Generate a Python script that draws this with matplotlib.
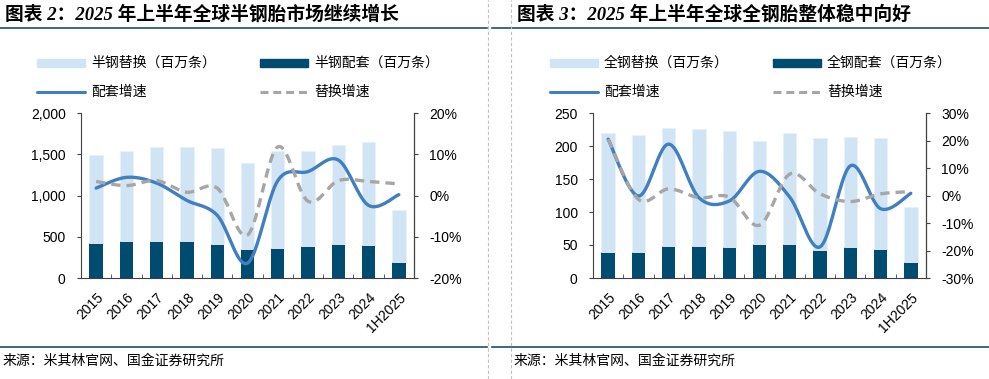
import matplotlib
matplotlib.use('Agg')
import matplotlib.pyplot as plt
import numpy as np
from matplotlib.lines import Line2D
from matplotlib.patches import Rectangle
from matplotlib.ticker import FuncFormatter, MultipleLocator

plt.rcParams['font.family'] = ['Liberation Sans', 'Noto Sans CJK SC', 'DejaVu Sans']
plt.rcParams['axes.unicode_minus'] = False

# 数据
years = ['2015', '2016', '2017', '2018', '2019', '2020', '2021', '2022', '2023', '2024', '1H2025']

# 半钢（百万条）
pc_oe = [423, 443, 451, 443, 418, 350, 362, 382, 414, 406, 197]
pc_repl = [1066, 1094, 1139, 1147, 1159, 1050, 1178, 1155, 1204, 1244, 628]
pc_oe_g = [1.8, 4.4, 3.0, -1.2, -4.8, -16.4, 3.6, 5.8, 8.6, -2.4, 0.2]
pc_repl_g = [3.4, 2.4, 3.6, 0.8, 1.8, -9.6, 11.8, -1.4, 3.6, 3.4, 2.8]

# 全钢（百万条）
tb_oe = [40, 40, 48, 49, 47, 52, 52, 42, 47, 44, 24]
tb_repl = [179, 177, 180, 177, 176, 156, 168, 170, 167, 168, 83]
tb_oe_g = [20.5, -0.2, 18.7, -0.8, -2.0, 8.8, -0.6, -18.7, 10.8, -4.8, 0.8]
tb_repl_g = [20.5, -1.4, 2.4, -0.8, -0.6, -10.8, 7.8, 0.6, -2.2, 0.6, 1.4]

c_light = '#d1e4f4'
c_dark = '#004b70'
c_line = '#3f7fc2'
c_dash = '#a6a6a6'
c_rule = '#1f4e6b'
cjk = ['Noto Sans CJK SC', 'DejaVu Sans']


def smooth(x, y, n=20):
    # Excel 式平滑曲线（Catmull-Rom）
    x = np.asarray(x, float)
    y = np.asarray(y, float)
    px = np.concatenate([[x[0]], x, [x[-1]]])
    py = np.concatenate([[y[0]], y, [y[-1]]])
    xs, ys = [], []
    for i in range(1, len(px) - 2):
        p0, p1, p2, p3 = px[i - 1], px[i], px[i + 1], px[i + 2]
        q0, q1, q2, q3 = py[i - 1], py[i], py[i + 1], py[i + 2]
        b1x, b1y = p1 + (p2 - p0) / 6, q1 + (q2 - q0) / 6
        b2x, b2y = p2 - (p3 - p1) / 6, q2 - (q3 - q1) / 6
        t = np.linspace(0, 1, n)
        xs.append((1 - t) ** 3 * p1 + 3 * (1 - t) ** 2 * t * b1x + 3 * (1 - t) * t ** 2 * b2x + t ** 3 * p2)
        ys.append((1 - t) ** 3 * q1 + 3 * (1 - t) ** 2 * t * b1y + 3 * (1 - t) * t ** 2 * b2y + t ** 3 * q2)
    return np.concatenate(xs), np.concatenate(ys)


def panel(ax, oe, repl, oe_g, repl_g, ymax, ystep, gmin, gmax):
    x = np.arange(len(years))
    ax.bar(x, oe, width=0.44, color=c_dark, zorder=2)
    ax.bar(x, repl, bottom=oe, width=0.44, color=c_light, edgecolor='#e8f1fa', linewidth=0.6, zorder=2)
    ax.set_xlim(-0.5, len(years) - 0.5)
    ax.set_ylim(0, ymax)
    ax.yaxis.set_major_locator(MultipleLocator(ystep))
    ax.yaxis.set_major_formatter(FuncFormatter(lambda v, p: f'{v:,.0f}'))
    ax.set_xticks(x)
    ax.set_xticklabels(years, rotation=45, ha='right', rotation_mode='anchor', fontsize=10)
    ax.set_xticks(np.arange(-0.5, len(years)), minor=True)
    ax.tick_params(axis='x', which='major', length=0, pad=9)
    ax.tick_params(axis='x', which='minor', direction='in', length=3, color='#404040')
    ax.tick_params(axis='y', direction='out', length=3, labelsize=10, color='#404040', pad=8)
    ax.spines['top'].set_visible(False)
    for s in ['left', 'bottom']:
        ax.spines[s].set_color('#404040')
        ax.spines[s].set_linewidth(0.8)

    ax2 = ax.twinx()
    sx, sy = smooth(x, oe_g)
    ax2.plot(sx, sy, color=c_line, lw=2.4, solid_capstyle='round', zorder=3)
    dx, dy = smooth(x, repl_g)
    ax2.plot(dx, dy, color=c_dash, lw=2.4, dashes=(2.8, 1.8), zorder=3)
    ax2.set_ylim(gmin, gmax)
    ax2.yaxis.set_major_locator(MultipleLocator(10))
    ax2.yaxis.set_major_formatter(FuncFormatter(lambda v, p: f'{v:.0f}%'))
    ax2.tick_params(axis='y', direction='out', length=3, labelsize=10, color='#404040', pad=8)
    for s in ['top', 'left', 'bottom']:
        ax2.spines[s].set_visible(False)
    ax2.spines['right'].set_color('#404040')
    ax2.spines['right'].set_linewidth(0.8)


fig = plt.figure(figsize=(9.89, 3.79), dpi=100)
W, H = 989, 379

axL = fig.add_axes([81 / W, 1 - 278 / H, 333 / W, 165 / H])
panel(axL, pc_oe, pc_repl, pc_oe_g, pc_repl_g, 2000, 500, -20, 20)
axR = fig.add_axes([593 / W, 1 - 278 / H, 333 / W, 165 / H])
panel(axR, tb_oe, tb_repl, tb_oe_g, tb_repl_g, 250, 50, -30, 30)


def legend(x0, x1, names):
    # 手动图例：两行两列
    hw = 48
    r1, r2 = 63, 92
    for (xx, yy, kind, name) in [(x0, r1, 'light', names[0]), (x1, r1, 'dark', names[1]),
                                 (x0, r2, 'line', '配套增速'), (x1, r2, 'dash', '替换增速')]:
        if kind in ('light', 'dark'):
            fig.add_artist(Rectangle((xx / W, 1 - (yy + 4) / H), hw / W, 8 / H,
                                     color=c_light if kind == 'light' else c_dark,
                                     transform=fig.transFigure))
        elif kind == 'line':
            fig.add_artist(Line2D([xx / W, (xx + hw) / W], [1 - yy / H] * 2, color=c_line, lw=2.2,
                                  solid_capstyle='round', transform=fig.transFigure))
        else:
            fig.add_artist(Line2D([xx / W, (xx + hw) / W], [1 - yy / H] * 2, color=c_dash, lw=2.2,
                                  dashes=(2.6, 1.6), transform=fig.transFigure))
        fig.text((xx + hw + 6) / W, 1 - yy / H, name, fontsize=10, family=cjk, va='center', ha='left')


legend(37, 260, ['半钢替换（百万条）', '半钢配套（百万条）'])
legend(550, 773, ['全钢替换（百万条）', '全钢配套（百万条）'])

# 标题
title_font = dict(fontsize=13.5, weight='bold', style='italic',
                  family=['Liberation Serif', 'Noto Sans CJK SC', 'DejaVu Sans'], va='center', ha='left')
fig.text(5 / W, 1 - 14 / H, '图表 2：2025 年上半年全球半钢胎市场继续增长', **title_font)
fig.text(517 / W, 1 - 14 / H, '图表 3：2025 年上半年全球全钢胎整体稳中向好', **title_font)

# 分隔线
for xa, xb in [(0, 487), (492, 989)]:
    fig.add_artist(Line2D([xa / W, xb / W], [1 - 28 / H] * 2, color=c_rule, lw=1.2, transform=fig.transFigure))
    fig.add_artist(Line2D([xa / W, xb / W], [1 - 347 / H] * 2, color=c_rule, lw=1.2, transform=fig.transFigure))
for xv in [488, 511]:
    fig.add_artist(Line2D([xv / W] * 2, [0, 1], color='#c0c0c0', lw=0.8, ls=(0, (3, 2)), transform=fig.transFigure))

# 来源
fig.text(3 / W, 1 - 361 / H, '来源：米其林官网、国金证券研究所', fontsize=10, family=cjk, va='center', ha='left')
fig.text(514 / W, 1 - 361 / H, '来源：米其林官网、国金证券研究所', fontsize=10, family=cjk, va='center', ha='left')

fig.savefig('out.png', dpi=100)
